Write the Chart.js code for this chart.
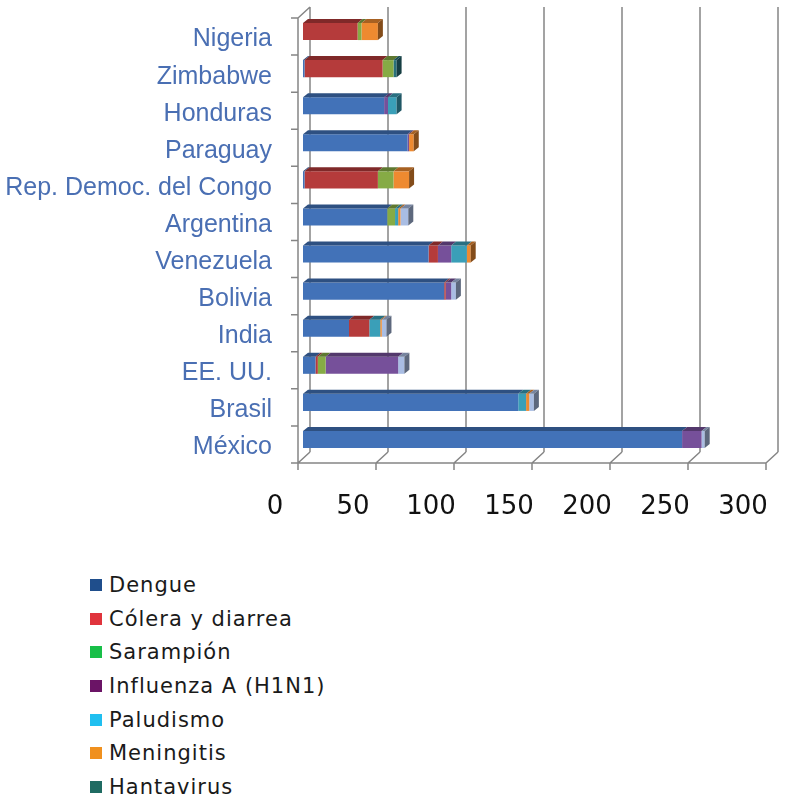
<!DOCTYPE html>
<html>
<head>
<meta charset="utf-8">
<script src="https://cdn.jsdelivr.net/npm/chart.js@4.4.0/dist/chart.umd.min.js"></script>
<style>
  body { margin: 0; background: #fff; }
  #wrap { position: relative; width: 791px; height: 530px; }
  #legend {
    position: absolute; left: 90px; top: 568px; margin: 0; padding: 0; list-style: none;
    font-family: "DejaVu Sans", Verdana, sans-serif; font-size: 21px; color: #1a1a1a; letter-spacing: 1px;
  }
  #legend li { height: 33.7px; display: flex; align-items: center; }
  #legend span { display: inline-block; width: 12px; height: 12px; margin-right: 7px; }
</style>
</head>
<body>
<div id="wrap"><canvas id="chart"></canvas></div>
<ul id="legend"></ul>
<script>
// --- Datos ---
const paises = ["Nigeria", "Zimbabwe", "Honduras", "Paraguay", "Rep. Democ. del Congo", "Argentina",
  "Venezuela", "Bolivia", "India", "EE. UU.", "Brasil", "México"];

const series = ["Dengue", "Cólera y diarrea", "Sarampión", "Influenza A (H1N1)", "Paludismo", "Meningitis", "Hantavirus", "Otros"];

const dengue     = [0, 1, 52, 67, 1, 54, 80.5, 90.5, 29.5, 8, 138, 243];
const colera     = [35, 50, 0, 0, 47, 0, 6, 1, 13, 1.5, 0, 0];
const sarampion  = [2.5, 7, 0, 0, 10, 5, 0, 0, 0, 5, 0, 0];
const influenza  = [0, 0, 2.5, 1, 0, 0, 8.5, 3.5, 0, 46.5, 0, 12.5];
const paludismo  = [0, 0, 5.5, 0, 0, 2, 10, 0, 7, 0, 5, 0];
const meningitis = [10.5, 0, 0, 3, 10, 1.5, 2.5, 0, 1, 0, 2, 0];
const hantavirus = [0, 2, 0, 0, 0, 0, 0, 0, 0, 0, 0, 0];
const otros      = [0, 0, 0, 0, 0, 5, 0, 3, 3, 4, 3, 2];

const ticksX = [0, 50, 100, 150, 200, 250, 300];

// colores de las barras y de la leyenda (distintos en el original)
const coloresBarra = ["#4272b8", "#b53b3b", "#86ab45", "#76509a", "#3a9fb8", "#ee8a30", "#28707a", "#a9bde3"];
const coloresLeyenda = ["#1f4e8c", "#e0343c", "#18bf48", "#6b1466", "#20bff0", "#f0901e", "#1f6b62"];

const valores = [dengue, colera, sarampion, influenza, paludismo, meningitis, hantavirus, otros];

// --- Sombras para el efecto 3D ---
function oscurecer(hex, f) {
  const n = parseInt(hex.slice(1), 16);
  const r = Math.round(((n >> 16) & 255) * f), g = Math.round(((n >> 8) & 255) * f), b = Math.round((n & 255) * f);
  return `rgb(${r},${g},${b})`;
}

const marco3d = {
  id: "marco3d",
  beforeDatasetsDraw(chart) {
    const { ctx, chartArea: a, scales: { x } } = chart;
    const fx = -5, fy = 5, bx = 7, by = -6;
    ctx.save();
    ctx.strokeStyle = "#858585";
    ctx.lineWidth = 1.5;
    ctx.beginPath();
    ticksX.forEach(v => {
      const px = x.getPixelForValue(v);
      ctx.moveTo(px + bx, a.top + by); ctx.lineTo(px + bx, a.bottom + by);
      ctx.moveTo(px + fx, a.bottom + fy); ctx.lineTo(px + bx, a.bottom + by);
      ctx.moveTo(px + fx, a.bottom + fy); ctx.lineTo(px + fx, a.bottom + fy + 7);
    });
    ctx.moveTo(a.left + fx - 6, a.bottom + fy); ctx.lineTo(a.right + fx, a.bottom + fy);
    ctx.moveTo(a.left + fx, a.top + fy); ctx.lineTo(a.left + fx, a.bottom + fy);
    ctx.moveTo(a.left + fx, a.top + fy); ctx.lineTo(a.left + bx, a.top + by);
    const n = chart.data.labels.length, h = (a.bottom - a.top) / n;
    for (let k = 0; k <= n; k++) {
      const yy = a.top + k * h + fy;
      ctx.moveTo(a.left + fx - 7, yy); ctx.lineTo(a.left + fx, yy);
    }
    ctx.stroke();
    ctx.restore();
  },
  afterDatasetsDraw(chart) {
    const ctx = chart.ctx;
    const dx = 5, dy = 4;
    ctx.save();
    chart.data.labels.forEach((_, i) => {
      let ultimo = null;
      chart.data.datasets.forEach((ds, d) => {
        if (!ds.data[i]) return;
        const el = chart.getDatasetMeta(d).data[i];
        const x0 = el.base, x1 = el.x, yt = el.y - el.height / 2;
        ctx.fillStyle = oscurecer(coloresBarra[d], 0.7);
        ctx.beginPath();
        ctx.moveTo(x0, yt); ctx.lineTo(x1, yt); ctx.lineTo(x1 + dx, yt - dy); ctx.lineTo(x0 + dx, yt - dy);
        ctx.closePath(); ctx.fill();
        ultimo = { el, d };
      });
      if (ultimo) {
        const el = ultimo.el, x1 = el.x, yt = el.y - el.height / 2, yb = el.y + el.height / 2;
        ctx.fillStyle = oscurecer(coloresBarra[ultimo.d], 0.55);
        ctx.beginPath();
        ctx.moveTo(x1, yt); ctx.lineTo(x1 + dx, yt - dy); ctx.lineTo(x1 + dx, yb - dy); ctx.lineTo(x1, yb);
        ctx.closePath(); ctx.fill();
      }
    });
    ctx.restore();
  }
};

const datasets = series.map((nombre, k) => ({
  label: nombre,
  data: valores[k],
  backgroundColor: coloresBarra[k],
  borderWidth: 0,
  barPercentage: 0.46,
  categoryPercentage: 1
}));

new Chart(document.getElementById("chart"), {
  type: "bar",
  data: { labels: paises, datasets },
  options: {
    indexAxis: "y",
    responsive: true,
    maintainAspectRatio: false,
    animation: false,
    layout: { padding: { top: 13, right: 20, left: 0, bottom: 0 } },
    plugins: { legend: { display: false }, tooltip: { enabled: false } },
    scales: {
      x: {
        stacked: true, min: 0, max: 300,
        afterBuildTicks: s => { s.ticks = ticksX.map(v => ({ value: v })); },
        ticks: { padding: 26, labelOffset: -28, maxRotation: 0, color: "#111", font: { family: "DejaVu Sans", size: 26 } },
        grid: { display: false },
        border: { display: false },
        afterFit: s => { s.height = 72; s.paddingLeft = 0; s.paddingRight = 0; }
      },
      y: {
        stacked: true,
        ticks: { padding: 23, labelOffset: 8, color: "#4a6fb3", font: { family: "Liberation Sans", size: 25 } },
        grid: { display: false },
        border: { display: false },
        afterFit: s => { s.width = 303; s.paddingTop = 0; s.paddingBottom = 0; }
      }
    }
  },
  plugins: [marco3d]
});

// --- Leyenda ---
const ul = document.getElementById("legend");
coloresLeyenda.forEach((c, k) => {
  const li = document.createElement("li");
  li.innerHTML = `<span style="background:${c}"></span>${series[k]}`;
  ul.appendChild(li);
});
</script>
</body>
</html>
